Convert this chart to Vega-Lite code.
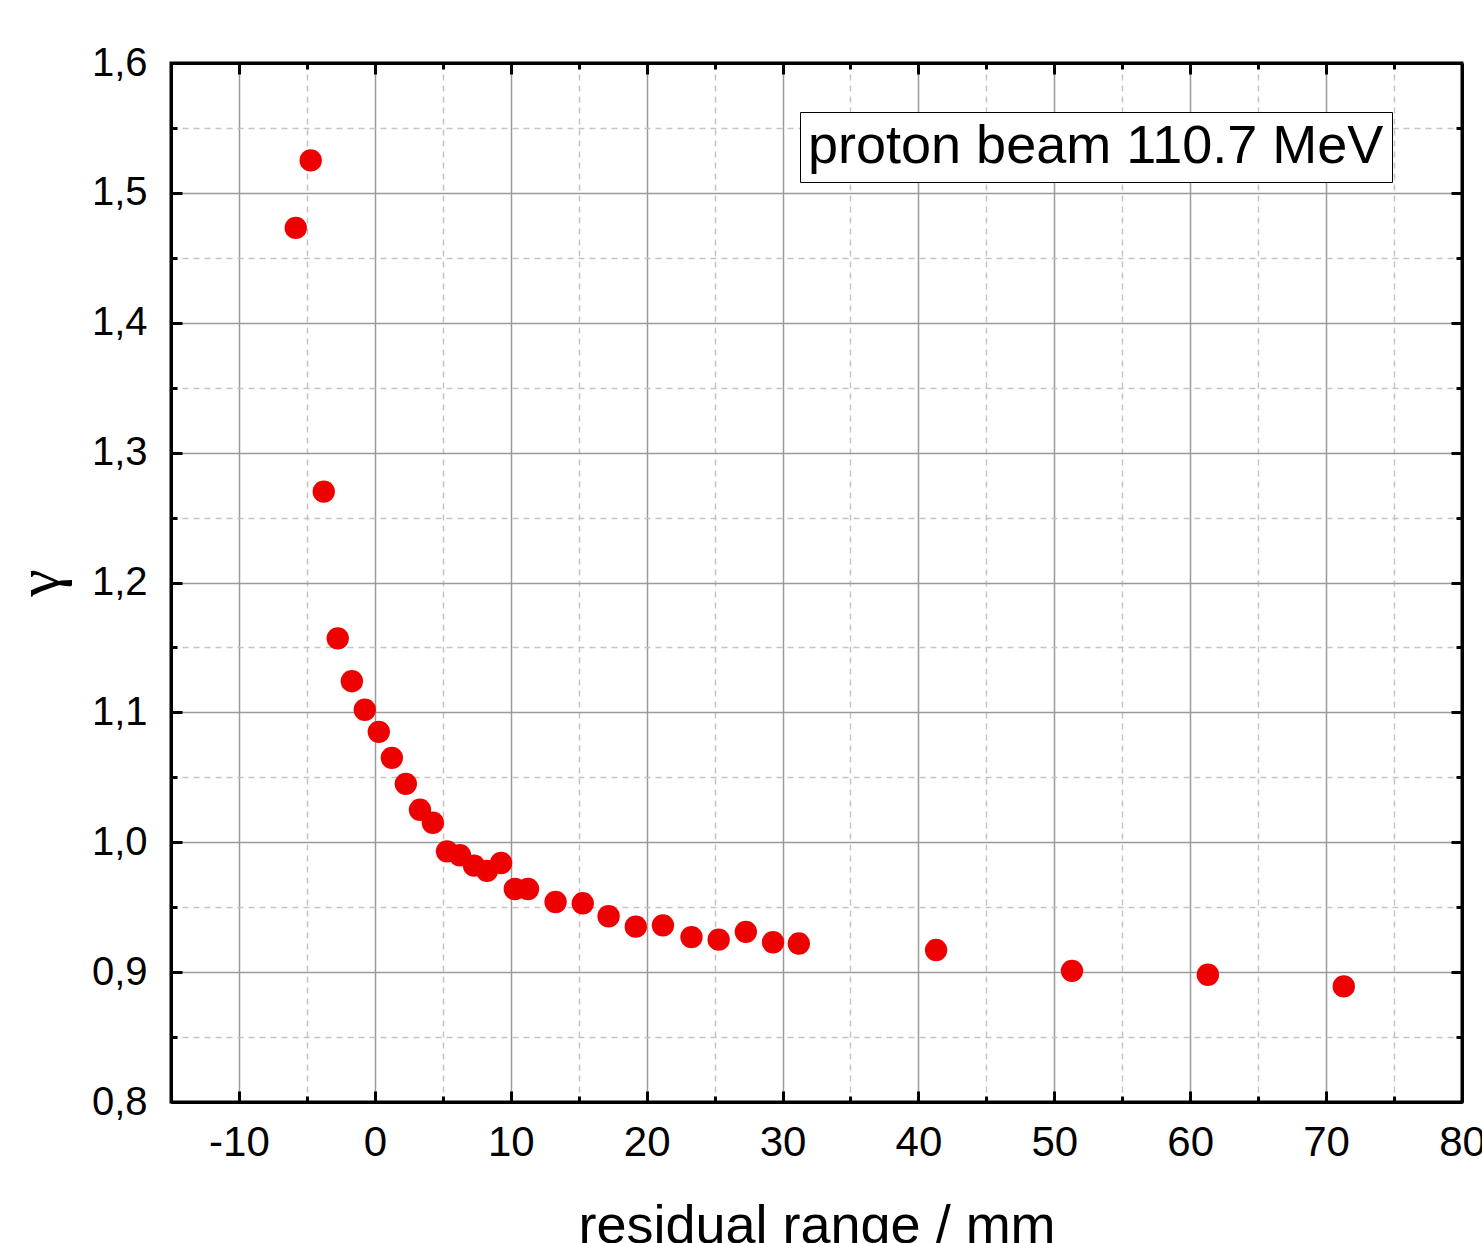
{
  "$schema": "https://vega.github.io/schema/vega-lite/v6.json",
  "width": 1291,
  "height": 1039,
  "autosize": {"type": "none"},
  "padding": {"left": 171, "top": 63, "right": 20, "bottom": 141},
  "background": "white",
  "config": {
    "view": {"stroke": "black", "strokeWidth": 3},
    "font": "Liberation Sans"
  },
  "data": {
    "values": [
      {"range": -5.82, "gamma": 1.473, "series": "proton beam 110.7 MeV"},
      {"range": -4.72, "gamma": 1.525, "series": "proton beam 110.7 MeV"},
      {"range": -3.76, "gamma": 1.270, "series": "proton beam 110.7 MeV"},
      {"range": -2.73, "gamma": 1.157, "series": "proton beam 110.7 MeV"},
      {"range": -1.69, "gamma": 1.124, "series": "proton beam 110.7 MeV"},
      {"range": -0.74, "gamma": 1.102, "series": "proton beam 110.7 MeV"},
      {"range": 0.29, "gamma": 1.085, "series": "proton beam 110.7 MeV"},
      {"range": 1.25, "gamma": 1.065, "series": "proton beam 110.7 MeV"},
      {"range": 2.28, "gamma": 1.045, "series": "proton beam 110.7 MeV"},
      {"range": 3.32, "gamma": 1.025, "series": "proton beam 110.7 MeV"},
      {"range": 4.27, "gamma": 1.015, "series": "proton beam 110.7 MeV"},
      {"range": 5.31, "gamma": 0.993, "series": "proton beam 110.7 MeV"},
      {"range": 6.26, "gamma": 0.990, "series": "proton beam 110.7 MeV"},
      {"range": 7.3, "gamma": 0.982, "series": "proton beam 110.7 MeV"},
      {"range": 8.25, "gamma": 0.978, "series": "proton beam 110.7 MeV"},
      {"range": 9.29, "gamma": 0.984, "series": "proton beam 110.7 MeV"},
      {"range": 10.3, "gamma": 0.964, "series": "proton beam 110.7 MeV"},
      {"range": 11.27, "gamma": 0.964, "series": "proton beam 110.7 MeV"},
      {"range": 13.3, "gamma": 0.954, "series": "proton beam 110.7 MeV"},
      {"range": 15.3, "gamma": 0.953, "series": "proton beam 110.7 MeV"},
      {"range": 17.2, "gamma": 0.943, "series": "proton beam 110.7 MeV"},
      {"range": 19.2, "gamma": 0.935, "series": "proton beam 110.7 MeV"},
      {"range": 21.2, "gamma": 0.936, "series": "proton beam 110.7 MeV"},
      {"range": 23.3, "gamma": 0.927, "series": "proton beam 110.7 MeV"},
      {"range": 25.3, "gamma": 0.925, "series": "proton beam 110.7 MeV"},
      {"range": 27.3, "gamma": 0.931, "series": "proton beam 110.7 MeV"},
      {"range": 29.3, "gamma": 0.923, "series": "proton beam 110.7 MeV"},
      {"range": 31.2, "gamma": 0.922, "series": "proton beam 110.7 MeV"},
      {"range": 41.3, "gamma": 0.917, "series": "proton beam 110.7 MeV"},
      {"range": 51.3, "gamma": 0.901, "series": "proton beam 110.7 MeV"},
      {"range": 61.3, "gamma": 0.898, "series": "proton beam 110.7 MeV"},
      {"range": 71.3, "gamma": 0.889, "series": "proton beam 110.7 MeV"}
    ]
  },
  "resolve": {"axis": {"x": "independent", "y": "independent"}},
  "layer": [
    {
      "mark": {"type": "point", "filled": true, "size": 500, "opacity": 1, "strokeWidth": 0},
      "encoding": {
        "x": {
          "field": "range", "type": "quantitative",
          "scale": {"domain": [-15, 80], "nice": false, "zero": false},
          "axis": {
            "orient": "bottom",
            "title": "residual range / mm",
            "titleFont": "Liberation Sans", "titleFontSize": 54, "titleFontWeight": "normal", "titleColor": "black",
            "titlePadding": 31,
            "values": [-10, -5, 0, 5, 10, 15, 20, 25, 30, 35, 40, 45, 50, 55, 60, 65, 70, 75, 80],
            "labelExpr": "datum.value % 10 === 0 ? ('' + datum.value) : ''",
            "labelFont": "Liberation Sans", "labelFontSize": 42, "labelColor": "black",
            "labelPadding": 31, "labelFlush": false, "labelOverlap": false,
            "domain": true, "domainColor": "black", "domainWidth": 3,
            "ticks": true, "tickColor": "black", "tickWidth": 3,
            "tickSize": {"condition": {"test": "datum.value % 10 !== 0", "value": -6}, "value": -11},
            "grid": true,
            "gridColor": {"condition": {"test": "datum.value % 10 !== 0", "value": "#c4c4c4"}, "value": "#9a9a9a"},
            "gridDash": {"condition": {"test": "datum.value % 10 !== 0", "value": [6, 5]}, "value": []},
            "gridWidth": 1.5
          }
        },
        "y": {
          "field": "gamma", "type": "quantitative",
          "scale": {"domain": [0.8, 1.6], "nice": false, "zero": false},
          "axis": {
            "orient": "left",
            "title": "γ",
            "titleFont": "Liberation Serif", "titleFontSize": 62, "titleFontWeight": "normal", "titleColor": "black",
            "titlePadding": 20,
            "values": [0.8, 0.85, 0.9, 0.95, 1.0, 1.05, 1.1, 1.15, 1.2, 1.25, 1.3, 1.35, 1.4, 1.45, 1.5, 1.55, 1.6],
            "labelExpr": "round(datum.value * 100) % 10 === 0 ? replace(format(datum.value, '.1f'), '.', ',') : ''",
            "labelFont": "Liberation Sans", "labelFontSize": 40, "labelColor": "black",
            "labelPadding": 35, "labelFlush": false, "labelOverlap": false,
            "domain": true, "domainColor": "black", "domainWidth": 3,
            "ticks": true, "tickColor": "black", "tickWidth": 3,
            "tickSize": {"condition": {"test": "round(datum.value * 100) % 10 !== 0", "value": -6}, "value": -11},
            "grid": true,
            "gridColor": {"condition": {"test": "round(datum.value * 100) % 10 !== 0", "value": "#c4c4c4"}, "value": "#9a9a9a"},
            "gridDash": {"condition": {"test": "round(datum.value * 100) % 10 !== 0", "value": [6, 5]}, "value": []},
            "gridWidth": 1.5
          }
        },
        "color": {
          "field": "series", "type": "nominal",
          "scale": {"range": ["#ee0000"]},
          "legend": {
            "title": null,
            "orient": "none",
            "legendX": 629,
            "legendY": 49,
            "labelFont": "Liberation Sans", "labelFontSize": 54, "labelColor": "black",
            "labelLimit": 1000,
            "symbolSize": 0, "symbolOpacity": 0,
            "labelOffset": -54,
            "padding": 8,
            "strokeColor": "black",
            "fillColor": "white"
          }
        }
      }
    },
    {
      "mark": {"type": "point", "opacity": 0},
      "encoding": {
        "x": {
          "field": "range", "type": "quantitative",
          "axis": {
            "orient": "top", "title": null, "labels": false, "grid": false,
            "values": [-10, -5, 0, 5, 10, 15, 20, 25, 30, 35, 40, 45, 50, 55, 60, 65, 70, 75],
            "domain": true, "domainColor": "black", "domainWidth": 3,
            "ticks": true, "tickColor": "black", "tickWidth": 3,
            "tickSize": {"condition": {"test": "datum.value % 10 !== 0", "value": -6}, "value": -11}
          }
        },
        "y": {
          "field": "gamma", "type": "quantitative",
          "axis": {
            "orient": "right", "title": null, "labels": false, "grid": false,
            "values": [0.85, 0.9, 0.95, 1.0, 1.05, 1.1, 1.15, 1.2, 1.25, 1.3, 1.35, 1.4, 1.45, 1.5, 1.55],
            "domain": true, "domainColor": "black", "domainWidth": 3,
            "ticks": true, "tickColor": "black", "tickWidth": 3,
            "tickSize": {"condition": {"test": "round(datum.value * 100) % 10 !== 0", "value": -6}, "value": -11}
          }
        }
      }
    }
  ]
}
